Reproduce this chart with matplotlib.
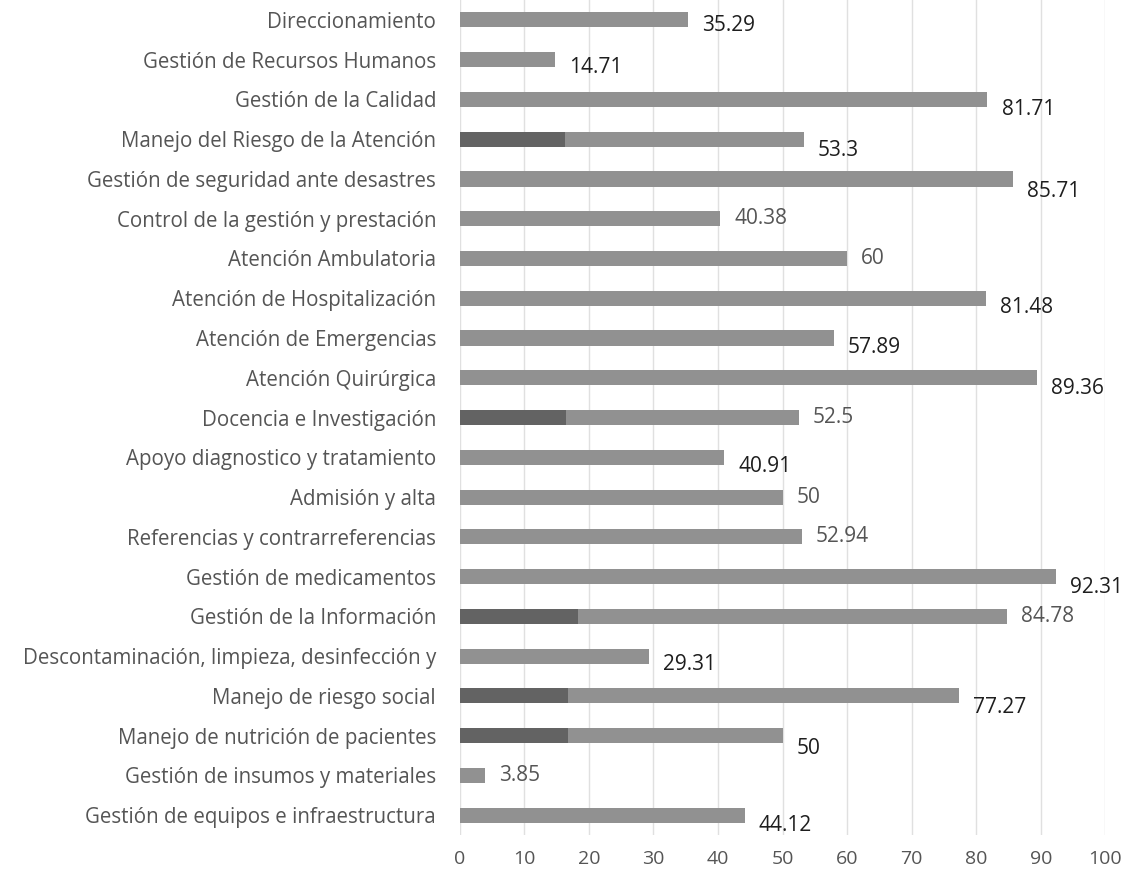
import matplotlib.pyplot as plt
import numpy as np

plt.rcParams['font.family'] = ['Open Sans', 'DejaVu Sans']

categorias = ['Direccionamiento', 'Gestión de Recursos Humanos', 'Gestión de la Calidad',
              'Manejo del Riesgo de la Atención', 'Gestión de seguridad ante desastres',
              'Control de la gestión y prestación', 'Atención Ambulatoria',
              'Atención de Hospitalización', 'Atención de Emergencias', 'Atención Quirúrgica',
              'Docencia e Investigación', 'Apoyo diagnostico y tratamiento', 'Admisión y alta',
              'Referencias y contrarreferencias', 'Gestión de medicamentos',
              'Gestión de la Información', 'Descontaminación, limpieza, desinfección y',
              'Manejo de riesgo social', 'Manejo de nutrición de pacientes',
              'Gestión de insumos y materiales', 'Gestión de equipos e infraestructura']
valores = [35.29, 14.71, 81.71, 53.3, 85.71, 40.38, 60, 81.48, 57.89, 89.36, 52.5,
           40.91, 50, 52.94, 92.31, 84.78, 29.31, 77.27, 50, 3.85, 44.12]
# darker first segment on some bars
tramo_oscuro = [0, 0, 0, 16.3, 0, 0, 0, 0, 0, 0, 16.4, 0, 0, 0, 0, 18.3, 0, 16.7, 16.7, 0, 0]

# label styling: vertical drop (in bar units) and colour
caida = [0.15, 0.2, 0.25, 0.28, 0.32, 0, 0, 0.22, 0.25, 0.28, 0, 0.22, 0, 0, 0.28, 0, 0.22, 0.28, 0.32, 0, 0.25]
oscuro_lbl = [1, 1, 1, 1, 1, 0, 0, 1, 1, 1, 0, 1, 0, 0, 1, 0, 1, 1, 1, 0, 1]

fig = plt.figure(figsize=(11.35, 8.8), dpi=100)
ax = fig.add_axes([0.405, 0.051, 0.569, 0.949])

y = np.arange(len(categorias))
ax.barh(y, valores, height=0.38, color='#919191', zorder=2)
ax.barh(y, tramo_oscuro, height=0.38, color='#636363', zorder=3)

for yi, v, d, o in zip(y, valores, caida, oscuro_lbl):
    ax.text(v + 2.2, yi + d, f'{v:g}', va='center', ha='left', fontsize=15,
            color='#1e1e1e' if o else '#555555')

ax.set_ylim(len(categorias) - 0.5, -0.5)
ax.set_xlim(0, 100)
ax.set_xticks(np.arange(0, 101, 10))
ax.set_yticks(y)
ax.set_yticklabels(categorias, fontsize=14.8, color='#555555')
ax.tick_params(axis='x', labelsize=14, labelcolor='#555555', length=0, pad=11)
ax.tick_params(axis='y', length=0, pad=17)
ax.grid(axis='x', color='#e0e0e0', linewidth=1, zorder=0)
for s in ax.spines.values():
    s.set_visible(False)

fig.savefig('out.png', dpi=100)
